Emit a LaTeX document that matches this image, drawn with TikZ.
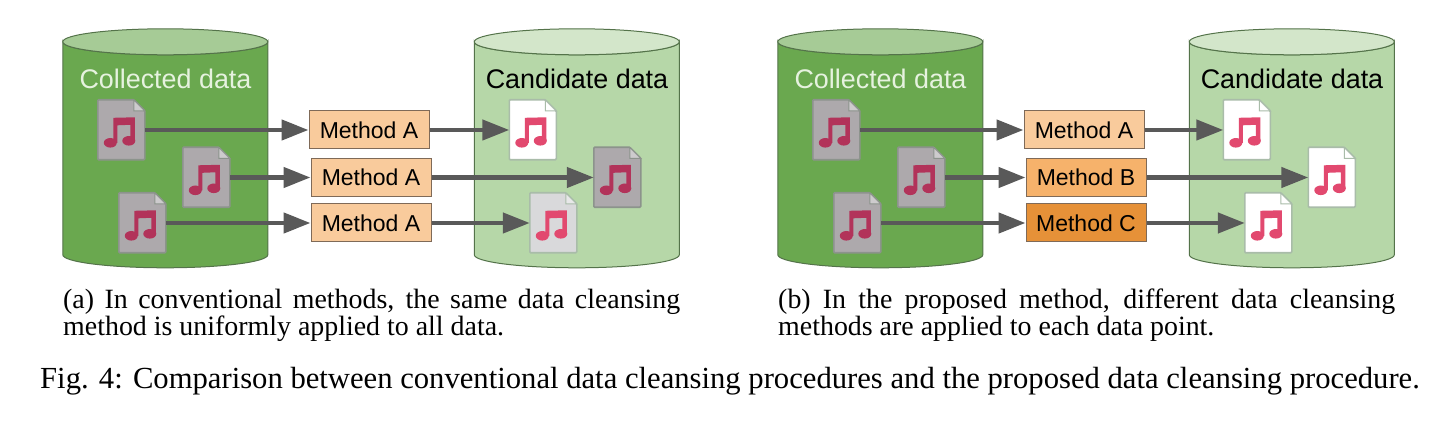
\documentclass[tikz,border=0pt]{standalone}
\usepackage{xcolor}
\usepackage{fontspec}
\setmainfont{Liberation Serif}
\newfontfamily\labelfont{Liberation Sans}
\usetikzlibrary{
  arrows.meta,
  positioning,
  calc
}
\definecolor{cdDark}{HTML}{6AA84F}
\definecolor{cdDarkTop}{HTML}{A6CB96}
\definecolor{cdLight}{HTML}{B6D7A8}
\definecolor{cdLightTop}{HTML}{D3E6CA}
\definecolor{cdEdge}{HTML}{54734A}
\definecolor{cdText}{HTML}{E6F2DF}
\definecolor{cdArrow}{HTML}{595959}
\definecolor{cdMethA}{HTML}{F9CB9C}
\definecolor{cdMethB}{HTML}{F6B26B}
\definecolor{cdMethC}{HTML}{E69138}
\definecolor{cdBoxEdge}{HTML}{7F6A58}
\definecolor{cdNote}{HTML}{E2496F}
\definecolor{cdNoteDim}{HTML}{B2335A}
\definecolor{cdSheetMid}{HTML}{ADA9AC}
\definecolor{cdSheetSoft}{HTML}{D9D9DB}
\definecolor{cdSheetEdge}{HTML}{8C938C}
\definecolor{cdSheetLine}{HTML}{A9BCA9}
\tikzset{
  storebox/.style={minimum width=205pt, minimum height=239pt, inner sep=0pt},
  storeline/.style={draw=cdEdge, line width=1pt},
  storelabel/.style={font=\labelfont\fontsize{26.9}{30}\selectfont, inner sep=0pt},
  method/.style={
    draw=cdBoxEdge, line width=1pt, minimum width=120pt, minimum height=38pt, inner sep=0pt,
    font=\labelfont\fontsize{23}{26}\selectfont
  },
  filenode/.style={minimum width=47pt, minimum height=60pt, inner sep=0pt},
  flow/.style={-{Triangle[length=27pt, width=20pt]}, line width=4.5pt, cdArrow},
  captext/.style={anchor=north west, inner sep=0pt, text width=617pt, align=justify,
    font=\fontsize{27.9}{26.5}\selectfont,
    execute at begin node={\hyphenpenalty=10000\relax\tolerance=9999\relax}}
}
% name, centre x, body fill, top fill
\newcommand{\datastore}[4]{
  \node[storebox] (#1) at (#2,148.5) {};
  \begin{scope}[shift={(#1.north west)}]
    \draw[storeline, fill=#3] (0,13) -- (0,226) arc (180:360:102.5pt and 13pt) -- (205,13) arc (0:-180:102.5pt and 13pt) -- cycle;
    \draw[storeline, fill=#4] (102.5,13) ellipse (102.5pt and 13pt);
  \end{scope}
}
% name, centre x, centre y, sheet fill, sheet edge, note colour
\newcommand{\musicfile}[6]{
  \node[filenode] (#1) at (#2,#3) {};
  \begin{scope}[shift={(#1.north west)}]
    \draw[fill=#4, draw=#5, line width=1.6pt, rounded corners=1pt]
      (0,0) -- (36,0) -- (47,11) -- (47,60) -- (0,60) -- cycle;
    \draw[fill=white, fill opacity=0.4, draw=#5, line width=1pt] (36,0) -- (47,11) -- (36,11) -- cycle;
    \fill[#6] (15.5,18) -- (37,17.5) -- (37,41) -- (32.5,41) -- (32.5,25) -- (19.5,25.5) -- (19.5,43) -- (15.5,43) -- cycle;
    \fill[#6] (12.5,43) ellipse (6.5pt and 4.8pt);
    \fill[#6] (31,41) ellipse (6.5pt and 4.8pt);
  \end{scope}
}
\begin{document}
\begin{tikzpicture}[x=1pt, y=-1pt]
  \useasboundingbox (0,0) rectangle (1456,427);
  % left panel
  \datastore{cola}{165.5}{cdDark}{cdDarkTop}
  \datastore{canda}{577}{cdLight}{cdLightTop}
  \node[storelabel, text=cdText] (cola label) at (165.5,79) {Collected data};
  \node[storelabel] (canda label) at (577,79) {Candidate data};
  \musicfile{fa1}{121.5}{130}{cdSheetMid}{cdSheetEdge}{cdNoteDim}
  \musicfile{fa2}{206.5}{177.5}{cdSheetMid}{cdSheetEdge}{cdNoteDim}
  \musicfile{fa3}{142.5}{223}{cdSheetMid}{cdSheetEdge}{cdNoteDim}
  \musicfile{ca1}{533}{130}{white}{cdSheetLine}{cdNote}
  \musicfile{ca2}{617.5}{177.5}{cdSheetMid}{cdSheetEdge}{cdNoteDim}
  \musicfile{ca3}{553.5}{223}{cdSheetSoft}{cdSheetLine}{cdNote}
  \node[method, fill=cdMethA] (ma1) at (369,130) {Method A};
  \node[method, fill=cdMethA] (ma2) at (371,177.5) {Method A};
  \node[method, fill=cdMethA] (ma3) at (371,223) {Method A};
  \draw[flow] (fa1) -- (ma1);
  \draw[flow] (fa2) -- (ma2);
  \draw[flow] (fa3) -- (ma3);
  \draw[flow] (ma1) -- (ca1);
  \draw[flow] (ma2) -- (ca2);
  \draw[flow] (ma3) -- (ca3);
  % right panel
  \datastore{colb}{880.5}{cdDark}{cdDarkTop}
  \datastore{candb}{1292}{cdLight}{cdLightTop}
  \node[storelabel, text=cdText] (colb label) at (880.5,79) {Collected data};
  \node[storelabel] (candb label) at (1292,79) {Candidate data};
  \musicfile{fb1}{836.5}{130}{cdSheetMid}{cdSheetEdge}{cdNoteDim}
  \musicfile{fb2}{921.5}{177.5}{cdSheetMid}{cdSheetEdge}{cdNoteDim}
  \musicfile{fb3}{857.5}{223}{cdSheetMid}{cdSheetEdge}{cdNoteDim}
  \musicfile{cb1}{1247}{130}{white}{cdSheetLine}{cdNote}
  \musicfile{cb2}{1332}{177.5}{white}{cdSheetLine}{cdNote}
  \musicfile{cb3}{1268.5}{223}{white}{cdSheetLine}{cdNote}
  \node[method, fill=cdMethA] (mb1) at (1084,130) {Method A};
  \node[method, fill=cdMethB] (mb2) at (1086,177.5) {Method B};
  \node[method, fill=cdMethC] (mb3) at (1086,223) {Method C};
  \draw[flow] (fb1) -- (mb1);
  \draw[flow] (fb2) -- (mb2);
  \draw[flow] (fb3) -- (mb3);
  \draw[flow] (mb1) -- (cb1);
  \draw[flow] (mb2) -- (cb2);
  \draw[flow] (mb3) -- (cb3);
  % captions
  \node[captext] (capa) at (63,289) {(a) In conventional methods, the same data cleansing method is uniformly applied to all data.};
  \node[captext] (capb) at (778,289) {(b) In the proposed method, different data cleansing methods are applied to each data point.};
  \node[anchor=north west, inner sep=0pt, font=\fontsize{30.65}{33}\selectfont] (capfig) at (40,367) {Fig. 4: Comparison between conventional data cleansing procedures and the proposed data cleansing procedure.};
\end{tikzpicture}
\end{document}
